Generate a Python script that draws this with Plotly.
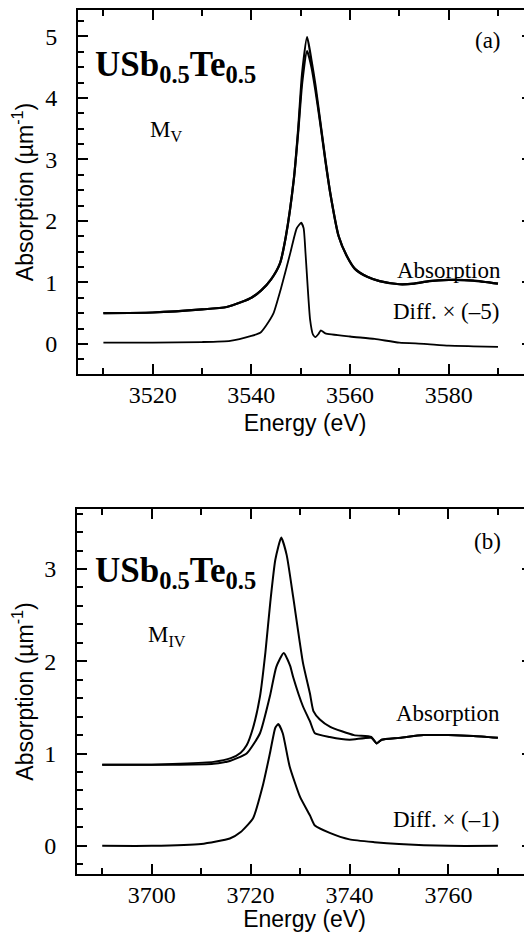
import plotly.graph_objects as go

# ---------------- Panel (a): M_V edge ----------------
energy_a1 = [3510, 3520, 3530, 3535, 3538, 3540, 3542, 3544, 3545.8, 3547, 3548.6, 3549.5,
             3550.3, 3551.3, 3552.2, 3553, 3554, 3555, 3556, 3557.7, 3559.4, 3561, 3563.5, 3566,
             3570, 3573, 3576, 3580, 3585, 3590]
absorb_a1 = [0.50, 0.51, 0.56, 0.60, 0.68, 0.75, 0.87, 1.05, 1.31, 1.75, 2.67, 3.50,
             4.40, 4.99, 4.60, 4.20, 3.60, 3.00, 2.45, 1.75, 1.42, 1.22, 1.09, 1.02,
             0.97, 0.98, 1.02, 1.04, 1.03, 0.98]
absorb_a2 = [0.50, 0.51, 0.56, 0.60, 0.68, 0.75, 0.87, 1.05, 1.31, 1.75, 2.67, 3.45,
             4.25, 4.76, 4.50, 4.12, 3.57, 2.98, 2.45, 1.75, 1.42, 1.22, 1.09, 1.02,
             0.97, 0.98, 1.02, 1.04, 1.03, 0.98]

energy_ad = [3510, 3520, 3530, 3535.7, 3540, 3541.8, 3543, 3544.5, 3546, 3547.9, 3549.2, 3550.1,
             3550.6, 3551, 3551.9, 3552.5, 3553, 3553.6, 3554.1, 3555, 3560, 3565, 3570,
             3575, 3580, 3585, 3590]
diff_a = [0.02, 0.02, 0.03, 0.05, 0.13, 0.18, 0.30, 0.50, 0.90, 1.48, 1.88, 1.97,
          1.88, 1.45, 0.40, 0.15, 0.11, 0.16, 0.22, 0.17, 0.12, 0.08, 0.02,
          0.00, -0.03, -0.04, -0.05]

# ---------------- Panel (b): M_IV edge ----------------
energy_b1 = [3690, 3700, 3705.7, 3712.5, 3716, 3718, 3719.2, 3720.5, 3721.9, 3723, 3724, 3725,
             3726.2, 3727.3, 3728.6, 3730.6, 3732, 3732.7, 3734, 3736.1, 3740.9, 3744.4, 3745.5,
             3746.5, 3750, 3755, 3760, 3765, 3770]
absorb_b1 = [0.88, 0.88, 0.89, 0.91, 0.95, 1.01, 1.09, 1.28, 1.62, 2.10, 2.65, 3.10,
             3.34, 3.15, 2.70, 1.98, 1.65, 1.46, 1.37, 1.29, 1.20, 1.18, 1.11,
             1.15, 1.17, 1.20, 1.20, 1.19, 1.17]

energy_b2 = [3690, 3700, 3705.7, 3712.5, 3715.8, 3719.2, 3721.9, 3723.9, 3725.2, 3726.7, 3728,
             3728.6, 3730.6, 3732, 3733, 3736, 3740, 3744.4, 3745.5, 3746.5, 3750, 3755,
             3760, 3765, 3770]
absorb_b2 = [0.88, 0.88, 0.88, 0.89, 0.92, 1.00, 1.22, 1.62, 1.94, 2.09, 1.95,
             1.83, 1.51, 1.35, 1.22, 1.18, 1.15, 1.17, 1.11, 1.15, 1.17, 1.20,
             1.20, 1.19, 1.17]

energy_bd = [3690, 3700, 3710, 3715.8, 3718, 3720.5, 3722.5, 3723.9, 3725, 3725.6, 3726.5,
             3727.9, 3730, 3732, 3733, 3736, 3740, 3745, 3750, 3760, 3770]
diff_b = [0.00, 0.00, 0.02, 0.08, 0.15, 0.30, 0.66, 1.00, 1.28, 1.32, 1.22,
          0.86, 0.53, 0.33, 0.22, 0.14, 0.07, 0.04, 0.02, 0.00, 0.00]

x_ticks_a = [3520, 3540, 3560, 3580]
x_ticks_b = [3700, 3720, 3740, 3760]
y_ticks_a = [0, 1, 2, 3, 4, 5]
y_ticks_b = [0, 1, 2, 3]

# page body adds an 8px margin; figure is sized to fit the window
OFF = 8
W, H = 524, 924
def px(x):
    return (x - OFF) / W
def py(y):
    return 1 - (y - OFF) / H

fig = go.Figure()
fig.add_trace(go.Scatter(x=energy_a1, y=absorb_a1, mode="lines", line=dict(color="black", width=2.2, shape="spline", smoothing=0.6), xaxis="x", yaxis="y"))
fig.add_trace(go.Scatter(x=energy_a1, y=absorb_a2, mode="lines", line=dict(color="black", width=2.2, shape="spline", smoothing=0.6), xaxis="x", yaxis="y"))
fig.add_trace(go.Scatter(x=energy_ad, y=diff_a, mode="lines", line=dict(color="black", width=1.8, shape="spline", smoothing=0.5), xaxis="x", yaxis="y"))
fig.add_trace(go.Scatter(x=energy_b1, y=absorb_b1, mode="lines", line=dict(color="black", width=2, shape="spline", smoothing=0.5), xaxis="x2", yaxis="y2"))
fig.add_trace(go.Scatter(x=energy_b2, y=absorb_b2, mode="lines", line=dict(color="black", width=2, shape="spline", smoothing=0.5), xaxis="x2", yaxis="y2"))
fig.add_trace(go.Scatter(x=energy_bd, y=diff_b, mode="lines", line=dict(color="black", width=2, shape="spline", smoothing=0.5), xaxis="x2", yaxis="y2"))

serif = "Liberation Serif, Times New Roman, Times, serif"
sans = "Liberation Sans, Arial, Helvetica, sans-serif"
tickfont = dict(family=serif, size=24, color="black")
titlefont = dict(family=sans, size=23, color="black")

def xaxis(domain_left, rng, ticks, anchor):
    return dict(domain=[px(domain_left), 1.0], range=rng, tickvals=ticks, ticks="inside", ticklen=10,
                tickwidth=1.5, tickcolor="black", showline=True, linecolor="black", linewidth=1.8,
                mirror="allticks", showgrid=False, zeroline=False, tickfont=tickfont,
                ticklabelstandoff=-2, automargin=False, anchor=anchor,
                minor=dict(dtick=10, tick0=3500, ticks="inside", ticklen=6, tickwidth=1.5, tickcolor="black"),
                title=dict(text="Energy (eV)", font=titlefont, standoff=8))

def yaxis(domain, rng, ticks, mdt, anchor):
    return dict(domain=domain, range=rng, tickvals=ticks, ticks="inside", ticklen=10,
                tickwidth=1.5, tickcolor="black", showline=True, linecolor="black", linewidth=1.8,
                mirror="allticks", showgrid=False, zeroline=False, tickfont=tickfont,
                ticklabelstandoff=14, automargin=False, anchor=anchor,
                minor=dict(dtick=mdt, tick0=0, ticks="inside", ticklen=6, tickwidth=1.5, tickcolor="black"),
                title=dict(text="Absorption (µm<sup>-1</sup>)", font=titlefont, standoff=10))

fig.update_layout(
    width=W, height=H, margin=dict(l=0, r=0, t=0, b=0),
    paper_bgcolor="white", plot_bgcolor="white", showlegend=False,
    xaxis=xaxis(78, [3504.85, 3596.9], x_ticks_a, "y"),
    yaxis=yaxis([py(374), py(10)], [-0.49, 5.43], y_ticks_a, 0.25, "x"),
    xaxis2=xaxis(77, [3684.9, 3776.9], x_ticks_b, "y2"),
    yaxis2=yaxis([py(874), py(509)], [-0.305, 3.65], y_ticks_b, 0.2, "x2"),
)

ann = [
    dict(text="<b>USb<sub>0.5</sub>Te<sub>0.5</sub></b>", x=px(93), y=py(66), xanchor="left", yanchor="middle", font=dict(family=serif, size=35)),
    dict(text="M<sub>V</sub>", x=px(148), y=py(131), xanchor="left", yanchor="middle", font=dict(family=serif, size=23)),
    dict(text="(a)", x=px(503), y=py(40), xanchor="right", yanchor="middle", font=dict(family=serif, size=23)),
    dict(text="Absorption", x=px(503), y=py(270), xanchor="right", yanchor="middle", font=dict(family=serif, size=23)),
    dict(text="Diff. × (–5)", x=px(501), y=py(311), xanchor="right", yanchor="middle", font=dict(family=serif, size=23)),
    dict(text="<b>USb<sub>0.5</sub>Te<sub>0.5</sub></b>", x=px(93), y=py(572), xanchor="left", yanchor="middle", font=dict(family=serif, size=35)),
    dict(text="M<sub>IV</sub>", x=px(146), y=py(636), xanchor="left", yanchor="middle", font=dict(family=serif, size=23)),
    dict(text="(b)", x=px(503), y=py(541), xanchor="right", yanchor="middle", font=dict(family=serif, size=23)),
    dict(text="Absorption", x=px(502), y=py(713), xanchor="right", yanchor="middle", font=dict(family=serif, size=23)),
    dict(text="Diff. × (–1)", x=px(501), y=py(819), xanchor="right", yanchor="middle", font=dict(family=serif, size=23)),
]
for a in ann:
    a.update(xref="paper", yref="paper", showarrow=False)
    a["font"]["color"] = "black"
fig.update_layout(annotations=ann)

fig.write_html("out.html")
